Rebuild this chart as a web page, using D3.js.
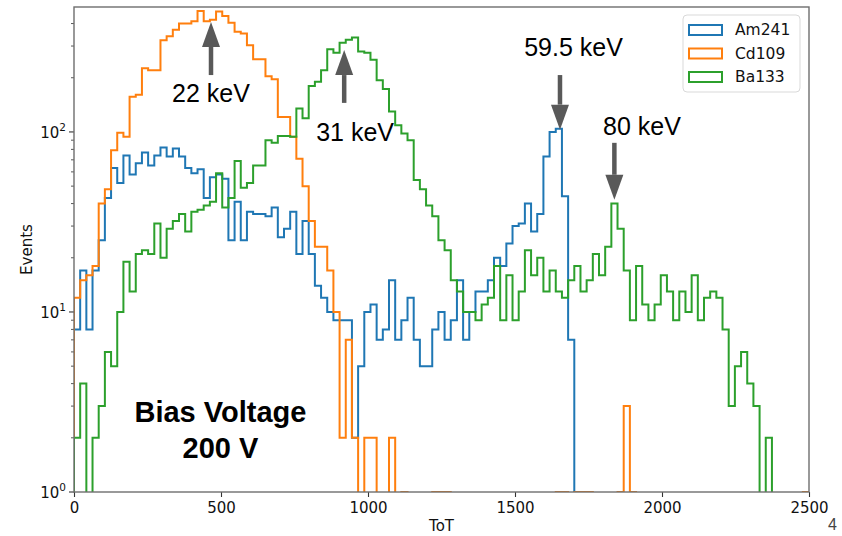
<!DOCTYPE html>
<html>
<head>
<meta charset="utf-8">
<script src="https://cdn.jsdelivr.net/npm/d3@7/dist/d3.min.js"></script>
<style>
  body { margin: 0; background: #fff; }
  svg { display: block; }
</style>
</head>
<body>
<svg id="chart" width="842" height="536"></svg>
<script>
// Histogram binning: 119 equal bins spanning 0 .. 2500 ToT
const binCount = 119;
const totMax = 2500;

// Events per bin, one array per source
const am241 = [
  8,17,8,17,25,43,63,52,74,58,
  67,77,65,74,82,73,81,73,63,59,
  62,43,56,58,55,25,41,25,36,35,
  35,34,38,26,29,36,21,32,21,14,
  12,10,9,9,9,2,5,10,11,7,
  8,15,7,9,12,7,5,5,8,10,
  7,9,15,7,10,13,13,15,20,18,
  24,30,31,40,28,35,73,100,104,44,
  7,0,0,0,0,0,0,0,0,0,
  0,0,0,0,0,0,0,0,0,0,
  0,0,0,0,0,0,0,0,0,0,
  0,0,0,0,0,0,0,0,0
];
const cd109 = [
  12,15,16,18,40,48,79,99,94,157,
  161,226,220,220,323,340,370,400,400,412,
  470,412,420,467,440,404,360,352,303,253,
  253,204,196,121,121,94,71,50,32,23,
  23,17,10,2,7,2,0,2,2,0,
  0,2,0,1,0,0,0,0,1,1,
  1,0,0,0,0,0,0,0,0,0,
  0,0,0,0,0,0,0,0,1,1,
  0,1,1,1,0,0,0,0,1,3,
  1,0,0,0,0,0,0,0,0,0,
  0,0,0,0,0,0,0,0,0,0,
  0,0,0,0,0,0,0,0,1
];
const ba133 = [
  2,4,0,2,3,6,5,10,19,13,
  21,22,21,31,20,29,32,35,28,36,
  37,39,41,59,38,43,69,49,52,65,
  65,90,87,95,95,94,135,119,180,190,
  220,288,275,313,325,335,280,275,252,194,
  173,130,109,98,90,54,48,39,34,25,
  22,15,13,10,10,9,11,12,18,9,
  16,9,13,22,16,20,13,17,13,12,
  15,18,13,15,21,16,23,40,29,17,
  9,18,11,9,11,16,13,9,13,10,
  16,9,12,13,12,8,3,5,6,4,
  3,0,2,0,0,0,0,0,0
];

const seriesNames  = ["Am241", "Cd109", "Ba133"];
const seriesColors = ["#1f77b4", "#ff7f0e", "#2ca02c"];

const xTickValues = [0, 500, 1000, 1500, 2000, 2500];
const yTickExponents = [0, 1, 2];

// Peak markers: label text, arrow position (ToT, events) and label anchor
const peakText     = ["22 keV", "31 keV", "59.5 keV", "80 keV"];
const peakArrowTot = [466, 919, 1653, 1838];
const peakArrowFrom = [207, 145, 207, 87];
const peakArrowTo   = [408, 285, 103, 42];
const peakLabelTot  = [466, 956, 1699, 1932];
const peakLabelEvt  = [147, 89, 264, 96];

const W = 842, H = 536;
const margin = { top: 7, right: 33, bottom: 44, left: 74 };
const iw = W - margin.left - margin.right;
const ih = H - margin.top - margin.bottom;

const svg = d3.select("#chart");
const g = svg.append("g").attr("transform", `translate(${margin.left},${margin.top})`);

const x = d3.scaleLinear().domain([0, totMax]).range([0, iw]);
const y = d3.scaleLog().domain([1, Math.pow(10, 2.694)]).range([ih, 0]);

const edges = d3.range(binCount + 1).map(i => i * totMax / binCount);

svg.append("defs").append("clipPath").attr("id", "plotClip")
  .append("rect").attr("x", 0).attr("y", 0).attr("width", iw).attr("height", ih);

// Step outline of a histogram; empty bins drop below the axis and get clipped
function stepPoints(counts) {
  const floor = 0.05;
  const pts = [[x(edges[0]), y(floor)]];
  counts.forEach((c, i) => {
    const yy = y(Math.max(c, floor));
    pts.push([x(edges[i]), yy]);
    pts.push([x(edges[i + 1]), yy]);
  });
  pts.push([x(edges[counts.length]), y(floor)]);
  return pts;
}

const plot = g.append("g").attr("clip-path", "url(#plotClip)");
[am241, cd109, ba133].forEach((counts, i) => {
  plot.append("path")
    .attr("d", d3.line()(stepPoints(counts)))
    .attr("fill", "none")
    .attr("stroke", seriesColors[i])
    .attr("stroke-width", 2)
    .attr("stroke-linejoin", "miter");
});

// Axes
const tickFont = "'DejaVu Sans', sans-serif";
const axisColor = "#6e6e6e";

const xAxis = g.append("g").attr("transform", `translate(0,${ih})`)
  .call(d3.axisBottom(x).tickValues(xTickValues).tickFormat(d3.format("d")).tickSize(5).tickPadding(5));
xAxis.select(".domain").remove();
xAxis.selectAll("line").attr("stroke", "#333").attr("stroke-width", 1.1);
xAxis.selectAll("text").attr("font-family", tickFont).attr("font-size", 15).attr("fill", "#111");

const yAxis = g.append("g");
const minorVals = [];
yTickExponents.forEach(e => {
  for (let m = 2; m <= 9; m++) {
    const v = m * Math.pow(10, e);
    if (v <= y.domain()[1]) minorVals.push(v);
  }
});
yAxis.selectAll("line.minor").data(minorVals).join("line")
  .attr("class", "minor")
  .attr("x1", -3).attr("x2", 0)
  .attr("y1", d => y(d)).attr("y2", d => y(d))
  .attr("stroke", "#444").attr("stroke-width", 0.9);
yAxis.selectAll("line.major").data(yTickExponents).join("line")
  .attr("class", "major")
  .attr("x1", -5).attr("x2", 0)
  .attr("y1", d => y(Math.pow(10, d))).attr("y2", d => y(Math.pow(10, d)))
  .attr("stroke", "#333").attr("stroke-width", 1.1);
const yLabels = yAxis.selectAll("text.ylab").data(yTickExponents).join("text")
  .attr("class", "ylab")
  .attr("x", -8)
  .attr("y", d => y(Math.pow(10, d)) + 6)
  .attr("text-anchor", "end")
  .attr("font-family", tickFont)
  .attr("font-size", 15)
  .attr("fill", "#111");
yLabels.append("tspan").text("10");
yLabels.append("tspan").attr("dy", -7).attr("font-size", 10.5).text(d => d);

// Frame
g.append("rect")
  .attr("x", 0).attr("y", 0).attr("width", iw).attr("height", ih)
  .attr("fill", "none").attr("stroke", axisColor).attr("stroke-width", 1.4);

// Axis titles
svg.append("text")
  .attr("x", margin.left + iw / 2).attr("y", 531)
  .attr("text-anchor", "middle")
  .attr("font-family", tickFont).attr("font-size", 15).attr("fill", "#111")
  .text("ToT");
svg.append("text")
  .attr("transform", `translate(32,${margin.top + ih / 2}) rotate(-90)`)
  .attr("text-anchor", "middle")
  .attr("font-family", tickFont).attr("font-size", 15).attr("fill", "#111")
  .text("Events");

// Legend
const legend = g.append("g").attr("transform", `translate(${iw - 126},8)`);
legend.append("rect")
  .attr("x", 0).attr("y", 0).attr("width", 117).attr("height", 77)
  .attr("rx", 4).attr("ry", 4)
  .attr("fill", "#fff").attr("fill-opacity", 0.8)
  .attr("stroke", "#d9d9d9").attr("stroke-width", 1);
seriesNames.forEach((name, i) => {
  const row = legend.append("g").attr("transform", `translate(6,${10 + i * 23.5})`);
  row.append("rect")
    .attr("x", 0).attr("y", 0).attr("width", 33).attr("height", 10)
    .attr("fill", "none").attr("stroke", seriesColors[i]).attr("stroke-width", 2);
  row.append("text")
    .attr("x", 46).attr("y", 10)
    .attr("font-family", tickFont).attr("font-size", 15.5).attr("fill", "#111")
    .text(name);
});

// Peak arrows and labels
const arrowColor = "#595959";
const headLen = 25, headHalf = 9;
peakText.forEach((t, i) => {
  const ax = x(peakArrowTot[i]);
  const y0 = y(peakArrowFrom[i]);
  const y1 = y(peakArrowTo[i]);
  const dir = y1 < y0 ? -1 : 1;
  const baseY = y1 - dir * headLen;
  g.append("line")
    .attr("x1", ax).attr("x2", ax)
    .attr("y1", y0).attr("y2", baseY)
    .attr("stroke", arrowColor).attr("stroke-width", 4.5);
  g.append("path")
    .attr("d", d3.line()([[ax - headHalf, baseY], [ax + headHalf, baseY], [ax, y1]]) + "Z")
    .attr("fill", arrowColor);
  g.append("text")
    .attr("x", x(peakLabelTot[i])).attr("y", y(peakLabelEvt[i]))
    .attr("text-anchor", "middle")
    .attr("font-family", "'Liberation Sans', Arial, sans-serif")
    .attr("font-size", 25).attr("fill", "#000")
    .text(t);
});

// Operating condition note
const noteLines = ["Bias Voltage", "200 V"];
const noteEvents = [2.45, 1.55];
noteLines.forEach((t, i) => {
  g.append("text")
    .attr("x", x(498)).attr("y", y(noteEvents[i]))
    .attr("text-anchor", "middle")
    .attr("font-family", "'Liberation Sans', Arial, sans-serif")
    .attr("font-weight", "bold")
    .attr("font-size", 29).attr("fill", "#000")
    .text(t);
});

// Page number at the corner
svg.append("text")
  .attr("x", 828).attr("y", 530)
  .attr("font-family", "'Liberation Sans', Arial, sans-serif")
  .attr("font-size", 16).attr("fill", "#444")
  .text("4");
</script>
</body>
</html>
